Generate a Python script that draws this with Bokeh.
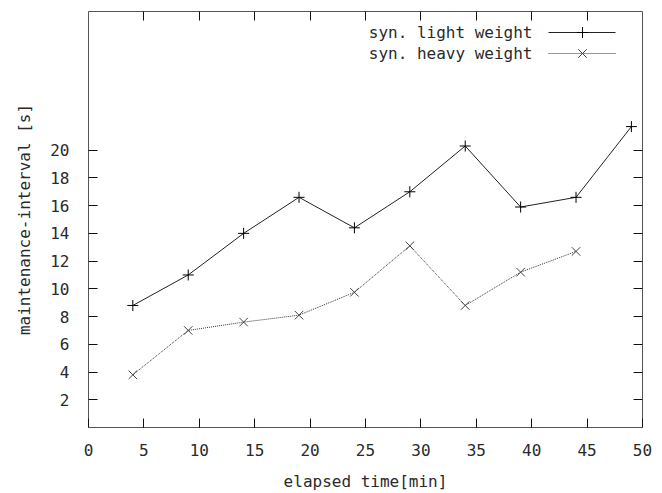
from bokeh.plotting import figure
from bokeh.models import Range1d, LinearAxis, FixedTicker
from bokeh.core.properties import value
from bokeh.embed import file_html
from bokeh.resources import INLINE

# ---- data ----
elapsed = [4, 9, 14, 19, 24, 29, 34, 39, 44, 49]
light_weight = [8.8, 11.0, 14.0, 16.6, 14.4, 17.0, 20.3, 15.9, 16.6, 21.7]
heavy_elapsed = [4, 9, 14, 19, 24, 29, 34, 39, 44]
heavy_weight = [3.8, 7.0, 7.6, 8.1, 9.75, 13.1, 8.8, 11.2, 12.7]
x_ticks = [0, 5, 10, 15, 20, 25, 30, 35, 40, 45, 50]
y_ticks = [2, 4, 6, 8, 10, 12, 14, 16, 18, 20]
series_labels = ["syn. light weight", "syn. heavy weight"]

# ---- layout ----
W, H = 662, 493
BL, BR, BT, BB = 88, 20, 11, 66
FW, FH = W - BL - BR, H - BT - BB
FONT = "DejaVu Sans Mono"
FS = "16px"
TXT = "#2a2a2a"

p = figure(width=W, height=H, x_range=Range1d(0, 50), y_range=Range1d(0, 30),
           output_backend="svg", toolbar_location=None,
           min_border_left=BL, min_border_right=BR, min_border_top=BT, min_border_bottom=BB,
           x_axis_label="elapsed time[min]", y_axis_label="maintenance-interval [s]")
p.xgrid.grid_line_color = None
p.ygrid.grid_line_color = None
p.outline_line_color = "#555555"
p.outline_line_width = 1
p.background_fill_color = "white"
p.border_fill_color = "white"

def style_axis(ax, ticks, show_labels=True):
    ax.ticker = FixedTicker(ticks=ticks)
    ax.axis_line_color = None
    ax.major_tick_in = 9
    ax.major_tick_out = 0
    ax.major_tick_line_color = "#111111"
    ax.minor_tick_line_color = None
    ax.major_label_text_font = FONT
    ax.major_label_text_font_size = FS
    ax.major_label_text_color = TXT
    ax.axis_label_text_font = FONT
    ax.axis_label_text_font_size = FS
    ax.axis_label_text_font_style = "normal"
    ax.axis_label_text_color = TXT
    if not show_labels:
        ax.major_label_overrides = {t: "" for t in ticks}
        ax.major_label_standoff = 0

style_axis(p.xaxis[0], x_ticks)
style_axis(p.yaxis[0], y_ticks)
p.xaxis[0].major_label_standoff = 16
p.xaxis[0].axis_label_standoff = 13
p.yaxis[0].major_label_standoff = 19
p.yaxis[0].axis_label_standoff = 13

top_ax = LinearAxis()
style_axis(top_ax, x_ticks[1:-1], show_labels=False)
p.add_layout(top_ax, "above")
right_ax = LinearAxis()
style_axis(right_ax, y_ticks, show_labels=False)
p.add_layout(right_ax, "right")

# ---- series ----
p.line(elapsed, light_weight, line_color="#222222", line_width=1)
p.scatter(elapsed, light_weight, marker="cross", size=11, line_color="#000000", line_width=1)
p.line(heavy_elapsed, heavy_weight, line_color="#333333", line_width=1, line_dash="1 1")
p.scatter(heavy_elapsed, heavy_weight, marker="x", size=12, line_color="#444444", line_width=1)

# ---- legend (pixel coordinates inside the frame) ----
p.extra_x_ranges = {"px": Range1d(0, FW)}
p.extra_y_ranges = {"px": Range1d(0, FH)}
leg_rows = [FH - 21, FH - 42]
leg_text_x = 444
leg_line = [460, 527]
leg_mark = 494
p.text(x=[leg_text_x, leg_text_x], y=leg_rows, text=series_labels,
       x_range_name="px", y_range_name="px",
       text_font=value(FONT), text_font_size=FS, text_color=TXT,
       text_align="right", text_baseline="middle")
p.line(leg_line, [leg_rows[0]] * 2, x_range_name="px", y_range_name="px",
       line_color="#222222", line_width=1)
p.scatter([leg_mark], [leg_rows[0]], x_range_name="px", y_range_name="px",
          marker="cross", size=11, line_color="#000000", line_width=1)
p.line(leg_line, [leg_rows[1]] * 2, x_range_name="px", y_range_name="px",
       line_color="#333333", line_width=1, line_dash="1 1")
p.scatter([leg_mark], [leg_rows[1]], x_range_name="px", y_range_name="px",
          marker="x", size=12, line_color="#444444", line_width=1)

open("out.html", "w").write(file_html(p, INLINE))
